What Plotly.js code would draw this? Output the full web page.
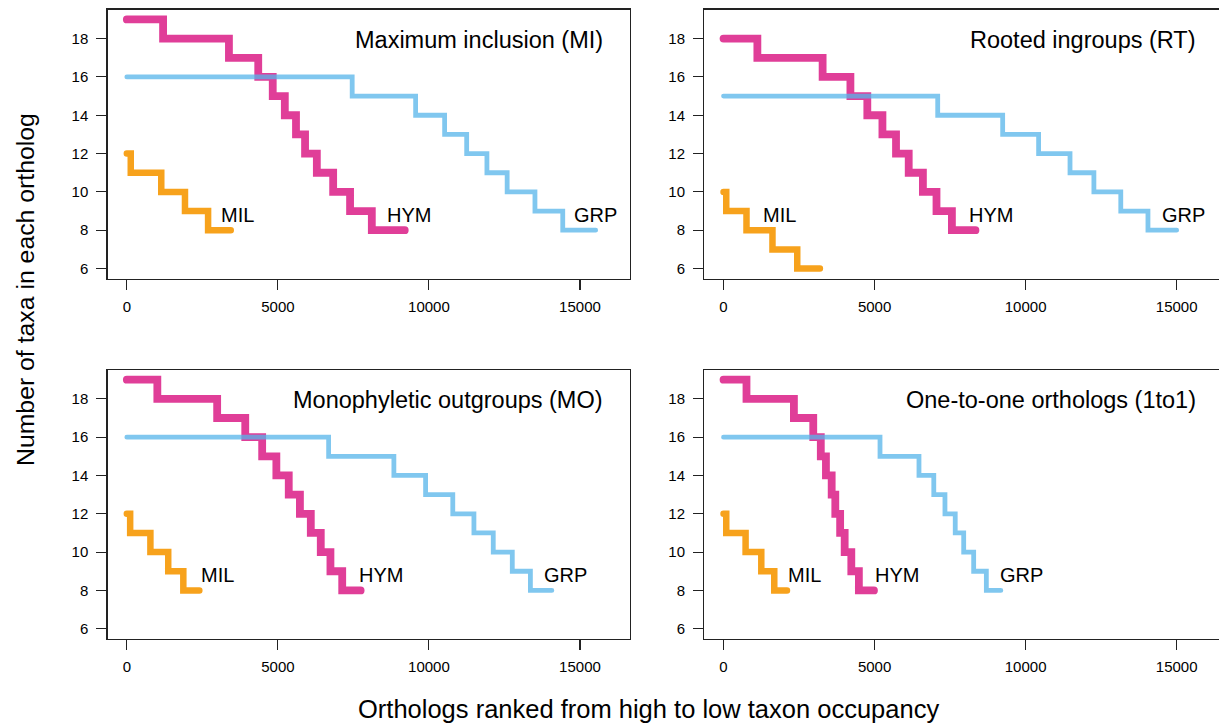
<!DOCTYPE html>
<html>
<head>
<meta charset="utf-8">
<script src="https://cdn.plot.ly/plotly-3.0.1.min.js"></script>
<style>
html,body{margin:0;padding:0;overflow:hidden;background:#fff;}
#chart{width:1240px;height:725px;}
#chart path.js-line{stroke-linecap:round;}
</style>
</head>
<body>
<div id="chart"></div>
<script>
// ---------------- data (rank where each taxon-count level begins, and the level) ----------------
const panelNames = ["Maximum inclusion (MI)", "Rooted ingroups (RT)", "Monophyletic outgroups (MO)", "One-to-one orthologs (1to1)"];
const seriesNames = ["MIL", "HYM", "GRP"];
const xTicks = [0, 5000, 10000, 15000];
const yTicks = [6, 8, 10, 12, 14, 16, 18];

// Maximum inclusion (MI)
const miMilX = [0, 130, 1140, 1925, 2690, 3440];
const miMilY = [12, 11, 10, 9, 8, 8];
const miHymX = [0, 1200, 3380, 4350, 4830, 5230, 5600, 5900, 6290, 6830, 7390, 8110, 9200];
const miHymY = [19, 18, 17, 16, 15, 14, 13, 12, 11, 10, 9, 8, 8];
const miGrpX = [0, 7460, 9560, 10520, 11250, 11920, 12590, 13510, 14430, 15520];
const miGrpY = [16, 15, 14, 13, 12, 11, 10, 9, 8, 8];

// Rooted ingroups (RT)
const rtMilX = [0, 90, 760, 1620, 2440, 3190];
const rtMilY = [10, 9, 8, 7, 6, 6];
const rtHymX = [0, 1120, 3280, 4200, 4760, 5260, 5710, 6130, 6600, 7050, 7560, 8340];
const rtHymY = [18, 17, 16, 15, 14, 13, 12, 11, 10, 9, 8, 8];
const rtGrpX = [0, 7090, 9240, 10430, 11470, 12260, 13150, 14050, 15000];
const rtGrpY = [15, 14, 13, 12, 11, 10, 9, 8, 8];

// Monophyletic outgroups (MO)
const moMilX = [0, 110, 780, 1370, 1870, 2400];
const moMilY = [12, 11, 10, 9, 8, 8];
const moHymX = [0, 1010, 2990, 3920, 4480, 4950, 5360, 5730, 6090, 6420, 6740, 7130, 7740];
const moHymY = [19, 18, 17, 16, 15, 14, 13, 12, 11, 10, 9, 8, 8];
const moGrpX = [0, 6680, 8840, 9890, 10790, 11490, 12130, 12760, 13360, 14070];
const moGrpY = [16, 15, 14, 13, 12, 11, 10, 9, 8, 8];

// One-to-one orthologs (1to1)
const ooMilX = [0, 90, 730, 1250, 1680, 2100];
const ooMilY = [12, 11, 10, 9, 8, 8];
const ooHymX = [0, 760, 2330, 2970, 3220, 3390, 3580, 3700, 3860, 4010, 4230, 4480, 4980];
const ooHymY = [19, 18, 17, 16, 15, 14, 13, 12, 11, 10, 9, 8, 8];
const ooGrpX = [0, 5180, 6470, 6960, 7330, 7670, 7950, 8280, 8700, 9180];
const ooGrpY = [16, 15, 14, 13, 12, 11, 10, 9, 8, 8];

const panelData = [
  [[miMilX, miMilY], [miHymX, miHymY], [miGrpX, miGrpY]],
  [[rtMilX, rtMilY], [rtHymX, rtHymY], [rtGrpX, rtGrpY]],
  [[moMilX, moMilY], [moHymX, moHymY], [moGrpX, moGrpY]],
  [[ooMilX, ooMilY], [ooHymX, ooHymY], [ooGrpX, ooGrpY]]
];

// ---------------- layout / styling ----------------
const W = 1240, H = 725;
const colors = ["#F7A21C", "rgb(224,62,152)", "rgba(86,180,233,0.75)"];
const widths = [6.5, 7.8, 4.8];
const panelBoxes = [
  {x0: 107.5, x1: 629.5, y0: 9.5, y1: 278.5},
  {x0: 704.2, x1: 1226.2, y0: 9.5, y1: 278.5},
  {x0: 107.5, x1: 629.5, y0: 369.7, y1: 638.7},
  {x0: 704.2, x1: 1226.2, y0: 369.7, y1: 638.7}
];
const titleRight = [15830, 15690, 15825, 15720];
const labelX = [
  [3660, 9330, 15520],
  [1860, 8870, 15220],
  [2990, 8420, 14520],
  [2690, 5730, 9850]
];
const FONT = "Liberation Sans, Arial, Helvetica, sans-serif";

const traces = [];
const annotations = [];
const layout = {
  width: W, height: H,
  margin: {l: 0, r: 0, t: 0, b: 0},
  paper_bgcolor: "#fff", plot_bgcolor: "#fff",
  showlegend: false,
  font: {family: FONT, color: "#000"},
  annotations: annotations
};

panelData.forEach((series, p) => {
  const n = p + 1;
  const xa = n === 1 ? "x" : "x" + n;
  const ya = n === 1 ? "y" : "y" + n;
  const b = panelBoxes[p];
  const axCommon = {
    showgrid: false, zeroline: false, showline: true, mirror: true,
    linecolor: "#222", linewidth: 1.2,
    ticks: "outside", ticklen: 10, tickwidth: 1.1, tickcolor: "#222",
    tickfont: {family: FONT, size: 15, color: "#000"},
    fixedrange: true
  };
  layout["xaxis" + (n === 1 ? "" : n)] = Object.assign({}, axCommon, {
    domain: [b.x0 / W, b.x1 / W],
    range: [-640, 16640],
    tickvals: xTicks, ticktext: xTicks.map(String),
    anchor: ya, ticklabelstandoff: 4
  });
  layout["yaxis" + (n === 1 ? "" : n)] = Object.assign({}, axCommon, {
    domain: [1 - b.y1 / H, 1 - b.y0 / H],
    range: [5.48, 19.52],
    tickvals: yTicks, ticktext: yTicks.map(String),
    anchor: xa, ticklabelstandoff: 5
  });
  series.forEach((s, i) => {
    traces.push({
      type: "scatter", mode: "lines",
      x: s[0], y: s[1],
      xaxis: xa, yaxis: ya,
      line: {shape: "hv", color: colors[i], width: widths[i]},
      hoverinfo: "skip"
    });
    annotations.push({
      xref: xa, yref: ya, x: labelX[p][i], y: 8.82,
      text: seriesNames[i], showarrow: false,
      xanchor: "center", yanchor: "middle",
      font: {family: FONT, size: 20, color: "#000"}
    });
  });
  annotations.push({
    xref: xa, yref: ya, x: titleRight[p], y: 17.95,
    text: panelNames[p], showarrow: false,
    xanchor: "right", yanchor: "middle",
    font: {family: FONT, size: 23.5, color: "#000"}
  });
});

annotations.push({
  xref: "paper", yref: "paper", x: 648 / W, y: 1 - 709 / H,
  text: "Orthologs ranked from high to low taxon occupancy", showarrow: false,
  xanchor: "center", yanchor: "middle",
  font: {family: FONT, size: 25.5, color: "#000"}
});
annotations.push({
  xref: "paper", yref: "paper", x: 25 / W, y: 1 - 290 / H,
  text: "Number of taxa in each ortholog", showarrow: false, textangle: -90,
  xanchor: "center", yanchor: "middle",
  font: {family: FONT, size: 24.8, color: "#000"}
});

Plotly.newPlot("chart", traces, layout, {staticPlot: true, displayModeBar: false});
</script>
</body>
</html>
